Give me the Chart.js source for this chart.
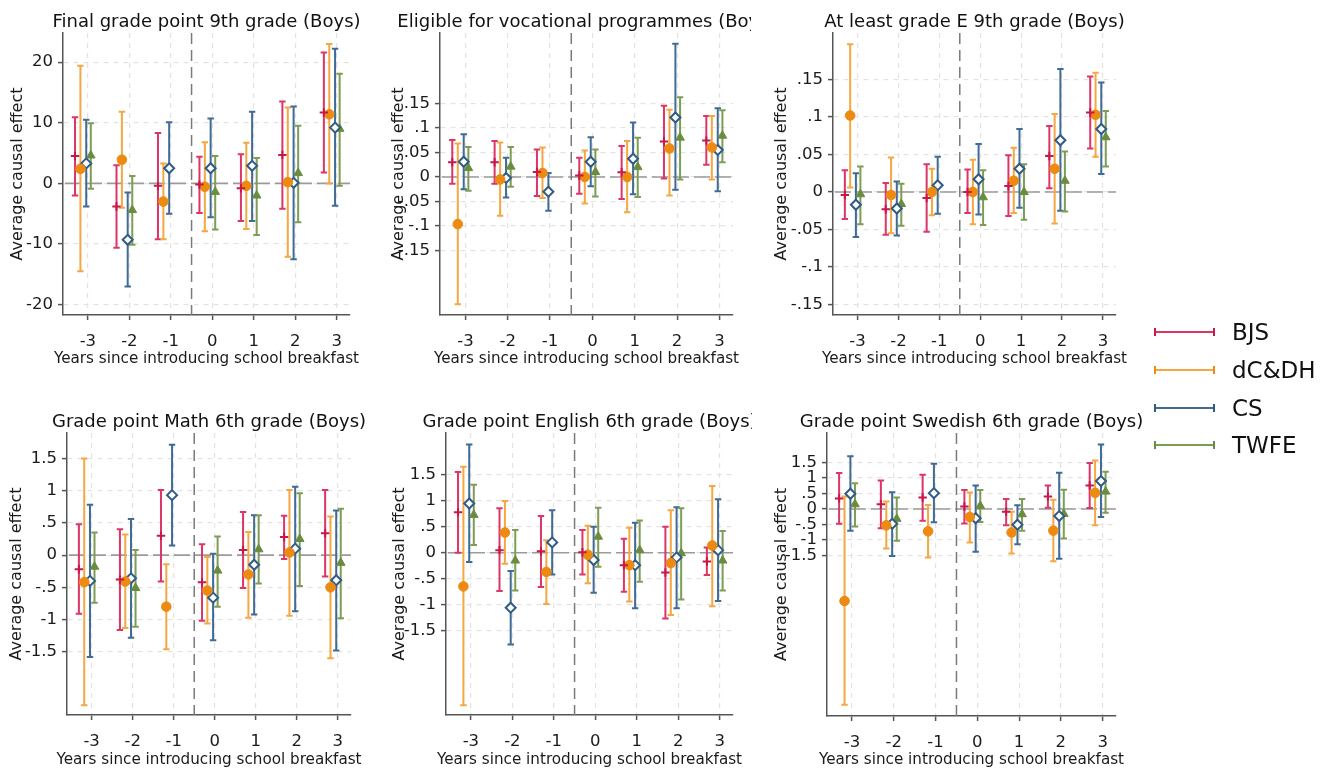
<!DOCTYPE html>
<html><head><meta charset="utf-8">
<script src="https://cdn.jsdelivr.net/npm/chart.js@4.4.1/dist/chart.umd.min.js"></script>
<style>
html,body{margin:0;padding:0;background:#fff;overflow:hidden;width:1336px;height:772px;position:relative;}
canvas{position:absolute;}
.lg{position:absolute;left:1154px;width:57px;height:8px;border-left:2px solid;border-right:2px solid;}
.lg i{position:absolute;left:0;right:0;top:3px;height:2px;}
.lt{position:absolute;left:1232px;font-family:"DejaVu Sans";font-size:23px;color:#111;line-height:28px;white-space:nowrap;}
</style></head><body>
<canvas id="c1" width="376" height="380" style="left:0px;top:0px"></canvas>
<canvas id="c2" width="371" height="380" style="left:380px;top:0px"></canvas>
<canvas id="c3" width="395" height="380" style="left:760px;top:0px"></canvas>
<canvas id="c4" width="376" height="376" style="left:0px;top:400px"></canvas>
<canvas id="c5" width="372" height="376" style="left:380px;top:400px"></canvas>
<canvas id="c6" width="395" height="376" style="left:760px;top:400px"></canvas>
<div id="legend"></div>
<script>
// ---------- DATA ----------
const years = [-3, -2, -1, 0, 1, 2, 3];
const xTickLabels = ['-3', '-2', '-1', '0', '1', '2', '3'];
const seriesNames = ['BJS', 'dC&DH', 'CS', 'TWFE'];

// each entry: [estimate, lower CI, upper CI]; null = not estimated
// Final grade point 9th grade (Boys)
const fg9_BJS  = [[4.5,-2.0,10.9],[-3.8,-10.6,3.0],[-0.4,-9.2,8.3],[-0.2,-4.9,4.4],[-0.8,-6.2,4.8],[4.7,-4.2,13.5],[11.7,1.8,21.6]];
const fg9_DCDH = [[2.4,-14.5,19.4],[3.9,-4.0,11.8],[-3.0,-9.2,3.3],[-0.55,-7.9,6.8],[-0.4,-7.5,6.7],[0.2,-12.1,12.5],[11.4,0.0,23.0]];
const fg9_CS   = [[3.3,-3.8,10.5],[-9.3,-17.0,-1.5],[2.5,-5.0,10.1],[2.5,-5.6,10.7],[2.9,-6.2,11.8],[0.1,-12.5,12.7],[9.2,-3.7,22.2]];
const fg9_TWFE = [[4.6,-0.9,9.9],[-4.4,-10.1,1.2],null,[-1.4,-7.6,4.5],[-2.0,-8.5,4.2],[1.7,-6.4,9.5],[9.0,-0.4,18.1]];
const fg9_yTicks = [-20, -10, 0, 10, 20];
const fg9_yLabels = ['-20', '-10', '0', '10', '20'];

// Eligible for vocational programmes (Boys)
const voc_BJS  = [[0.030,-0.014,0.075],[0.030,-0.014,0.073],[0.010,-0.039,0.056],[0.003,-0.034,0.039],[0.0095,-0.045,0.063],[0.072,-0.003,0.145],[0.074,0.025,0.124]];
const voc_DCDH = [[-0.096,-0.259,0.068],[-0.005,-0.079,0.070],[0.008,-0.043,0.060],[0.0,-0.054,0.054],[0.0,-0.072,0.073],[0.058,-0.038,0.137],[0.060,-0.005,0.124]];
const voc_CS   = [[0.031,-0.025,0.087],[-0.002,-0.042,0.039],[-0.030,-0.069,0.008],[0.031,-0.019,0.081],[0.037,-0.035,0.111],[0.121,-0.026,0.271],[0.055,-0.029,0.140]];
const voc_TWFE = [[0.018,-0.028,0.061],[0.021,-0.020,0.061],null,[0.010,-0.040,0.056],[0.020,-0.041,0.080],[0.080,-0.005,0.162],[0.084,0.030,0.136]];

// At least grade E 9th grade (Boys)
const e9_BJS  = [[-0.004,-0.036,0.029],[-0.023,-0.057,0.012],[-0.008,-0.053,0.037],[0.0,-0.028,0.030],[0.008,-0.032,0.049],[0.048,0.005,0.088],[0.106,0.058,0.154]];
const e9_DCDH = [[0.102,0.006,0.197],[-0.004,-0.055,0.046],[0.0,-0.031,0.031],[0.0,-0.043,0.043],[0.015,-0.028,0.059],[0.031,-0.042,0.104],[0.103,0.047,0.159]];
const e9_CS   = [[-0.017,-0.060,0.025],[-0.022,-0.058,0.014],[0.009,-0.029,0.047],[0.017,-0.030,0.064],[0.031,-0.021,0.084],[0.069,-0.025,0.164],[0.084,0.024,0.146]];
const e9_TWFE = [[-0.003,-0.043,0.034],[-0.016,-0.045,0.011],null,[-0.007,-0.044,0.029],[0.0,-0.037,0.037],[0.015,-0.026,0.054],[0.073,0.034,0.108]];
const share_yTicks = [-0.15, -0.1, -0.05, 0, 0.05, 0.1, 0.15];
const share_yLabels = ['-.15', '-.1', '-.05', '0', '.05', '.1', '.15'];

// Grade point Math 6th grade (Boys)
const math_BJS  = [[-0.22,-0.91,0.48],[-0.38,-1.16,0.40],[0.30,-0.41,1.01],[-0.42,-1.02,0.17],[0.08,-0.51,0.67],[0.28,-0.06,0.61],[0.34,-0.33,1.01]];
const math_DCDH = [[-0.42,-2.33,1.50],[-0.41,-1.13,0.32],[-0.80,-1.46,-0.14],[-0.55,-1.06,-0.03],[-0.30,-0.97,0.36],[0.04,-0.94,1.01],[-0.50,-1.60,0.60]];
const math_CS   = [[-0.40,-1.58,0.78],[-0.36,-1.28,0.56],[0.93,0.15,1.71],[-0.66,-1.32,0.02],[-0.15,-0.92,0.62],[0.10,-0.87,1.06],[-0.39,-1.48,0.69]];
const math_TWFE = [[-0.18,-0.74,0.35],[-0.51,-1.11,0.08],null,[-0.24,-0.80,0.29],[0.09,-0.44,0.62],[0.25,-0.48,0.96],[-0.12,-0.98,0.72]];

// Grade point English 6th grade (Boys)
const eng_BJS  = [[0.78,0.0,1.56],[0.05,-0.74,0.86],[0.03,-0.66,0.71],[0.01,-0.42,0.44],[-0.24,-0.75,0.27],[-0.38,-1.27,0.50],[-0.17,-0.43,0.10]];
const eng_DCDH = [[-0.65,-2.94,1.66],[0.39,-0.21,1.00],[-0.37,-0.99,0.24],[-0.04,-0.59,0.52],[-0.24,-0.94,0.48],[-0.20,-1.20,0.82],[0.14,-1.03,1.29]];
const eng_CS   = [[0.95,-0.18,2.09],[-1.06,-1.77,-0.35],[0.20,-0.42,0.82],[-0.14,-0.77,0.50],[-0.24,-1.07,0.58],[-0.09,-1.07,0.88],[0.05,-0.93,1.03]];
const eng_TWFE = [[0.73,0.15,1.31],[-0.15,-0.73,0.44],null,[0.31,-0.27,0.87],[0.05,-0.56,0.62],[-0.01,-0.90,0.86],[-0.15,-0.73,0.42]];

// Grade point Swedish 6th grade (Boys)
const swe_BJS  = [[0.34,-0.48,1.16],[0.15,-0.62,0.92],[0.37,-0.38,1.10],[0.08,-0.47,0.61],[-0.09,-0.53,0.32],[0.40,0.04,0.76],[0.76,0.03,1.48]];
const swe_DCDH = [[-2.97,-6.32,0.40],[-0.53,-1.28,0.24],[-0.72,-1.57,0.13],[-0.26,-1.08,0.53],[-0.76,-1.44,-0.09],[-0.70,-1.69,0.30],[0.52,-0.53,1.56]];
const swe_CS   = [[0.49,-0.70,1.70],[-0.48,-1.52,0.54],[0.51,-0.43,1.46],[-0.30,-1.38,0.76],[-0.51,-1.14,0.12],[-0.23,-1.61,1.17],[0.90,-0.26,2.08]];
const swe_TWFE = [[0.15,-0.57,0.83],[-0.32,-1.03,0.37],null,[0.10,-0.42,0.61],[-0.17,-0.70,0.32],[-0.16,-0.95,0.62],[0.56,-0.12,1.20]];
const grade_yTicks = [-1.5, -1, -0.5, 0, 0.5, 1, 1.5];
const grade_yLabels = ['-1.5', '-1', '-.5', '0', '.5', '1', '1.5'];

const xAxisTitle = 'Years since introducing school breakfast';
const yAxisTitle = 'Average causal effect';

// ---------- STYLE ----------
const FONT = '"DejaVu Sans"';
const TICK_SIZE = 16.5, AXT_SIZE = 16, XT_SIZE = 15.2;
const seriesStyle = [
  {off:-0.31, bar:'#dc3668', mk:'#c8174b', fill:'#c8174b', pt:'cross', r:4.2, bw:2},
  {off:-0.18, bar:'#f4a742', mk:'#ec8a12', fill:'#ec8a12', pt:'circle', r:4.8, bw:1},
  {off:-0.04, bar:'#3f6b95', mk:'#2f5b86', fill:'#ffffff', pt:'rectRot', r:5, bw:2},
  {off: 0.07, bar:'#7d9d55', mk:'#6a8c3f', fill:'#6a8c3f', pt:'triangle', r:5, bw:1}
];

const panels = [
  {id:'c1', title:'Final grade point 9th grade (Boys)', series:[fg9_BJS,fg9_DCDH,fg9_CS,fg9_TWFE], yMin:-21.7, yMax:24.8, yTicks:fg9_yTicks, yLabels:fg9_yLabels, padL:4, yW:59, padR:26, padB:7, xH:58, titleY:27, xtY:359},
  {id:'c2', title:'Eligible for vocational programmes (Boys)', series:[voc_BJS,voc_DCDH,voc_CS,voc_TWFE], yMin:-0.281, yMax:0.293, yTicks:share_yTicks, yLabels:share_yLabels, padL:5.5, yW:54.5, padR:18, padB:7, xH:58, titleY:27, xtY:359},
  {id:'c3', title:'At least grade E 9th grade (Boys)', series:[e9_BJS,e9_DCDH,e9_CS,e9_TWFE], yMin:-0.164, yMax:0.212, yTicks:share_yTicks, yLabels:share_yLabels, padL:8.5, yW:64.5, padR:39, padB:7, xH:58, titleY:27, xtY:359},
  {id:'c4', title:'Grade point Math 6th grade (Boys)', series:[math_BJS,math_DCDH,math_CS,math_TWFE], yMin:-2.48, yMax:1.894, yTicks:grade_yTicks, yLabels:grade_yLabels, padL:3.2, yW:63.8, padR:25, padB:2, xH:59, titleY:27, xtY:360},
  {id:'c5', title:'Grade point English 6th grade (Boys)', series:[eng_BJS,eng_DCDH,eng_CS,eng_TWFE], yMin:-3.13, yMax:2.31, yTicks:grade_yTicks, yLabels:grade_yLabels, padL:5.8, yW:60.2, padR:19, padB:2, xH:59, titleY:27, xtY:360},
  {id:'c6', title:'Grade point Swedish 6th grade (Boys)', series:[swe_BJS,swe_DCDH,swe_CS,swe_TWFE], yMin:-6.68, yMax:2.45, yTicks:grade_yTicks, yLabels:grade_yLabels, padL:8.2, yW:58.8, padR:39, padB:2, xH:58, titleY:27, xtY:360}
];

const refX = -0.5, refY = 0;

const errPlugin = {
  id: 'errbars',
  beforeDatasetsDraw(chart) {
    const {ctx, chartArea: ca, scales: {x, y}} = chart;
    ctx.save();
    ctx.beginPath(); ctx.rect(ca.left, ca.top, ca.width, ca.height); ctx.clip();
    const y0 = y.getPixelForValue(refY);
    ctx.strokeStyle = '#9b9b9b'; ctx.lineWidth = 1.6; ctx.setLineDash([16, 5]);
    ctx.beginPath(); ctx.moveTo(ca.left + 2, y0); ctx.lineTo(ca.right, y0); ctx.stroke();
    const xv = x.getPixelForValue(refX);
    ctx.strokeStyle = '#7a7a7a'; ctx.lineWidth = 1.5; ctx.setLineDash([11, 6]);
    ctx.beginPath(); ctx.moveTo(xv, ca.top); ctx.lineTo(xv, ca.bottom); ctx.stroke();
    ctx.setLineDash([]);
    ctx.restore();
    ctx.save();
    chart.data.datasets.forEach(ds => {
      ctx.strokeStyle = ds.barColor; ctx.lineWidth = 2;
      ds.data.forEach(p => {
        const px = x.getPixelForValue(p.x);
        const pl = y.getPixelForValue(p.lo), ph = y.getPixelForValue(p.hi);
        ctx.beginPath();
        ctx.moveTo(px, pl); ctx.lineTo(px, ph);
        ctx.moveTo(px - 3.2, pl); ctx.lineTo(px + 3.2, pl);
        ctx.moveTo(px - 3.2, ph); ctx.lineTo(px + 3.2, ph);
        ctx.stroke();
      });
    });
    ctx.restore();
  }
};

const titlePlugin = {
  id: 'ptitle',
  afterDraw(chart) {
    const o = chart.options.plugins.ptitle;
    const {ctx, chartArea: ca} = chart;
    const cx = (ca.left + ca.right) / 2;
    ctx.save();
    ctx.fillStyle = '#111';
    ctx.textAlign = 'center';
    ctx.font = '18px ' + FONT; ctx.textBaseline = 'alphabetic';
    ctx.fillText(o.text, cx, o.y);
    ctx.font = XT_SIZE + 'px ' + FONT; ctx.textBaseline = 'middle'; ctx.fillStyle = '#1a1a1a';
    ctx.fillText(o.xTitle, cx, o.xtY);
    ctx.restore();
  }
};

panels.forEach(p => {
  const datasets = seriesNames.map((name, si) => {
    const st = seriesStyle[si];
    const pts = [];
    years.forEach((yr, i) => {
      const t = p.series[si][i];
      if (t) pts.push({x: yr + st.off, y: t[0], lo: t[1], hi: t[2]});
    });
    return {
      label: name, data: pts, barColor: st.bar,
      pointStyle: st.pt, pointRadius: st.r, pointHoverRadius: st.r,
      backgroundColor: st.fill, borderColor: st.mk, borderWidth: st.bw,
      showLine: false, clip: false
    };
  });
  new Chart(document.getElementById(p.id), {
    type: 'scatter',
    data: {datasets},
    plugins: [errPlugin, titlePlugin],
    options: {
      responsive: false, animation: false, devicePixelRatio: 1, events: [],
      layout: {padding: {top: 33, left: p.padL, right: p.padR, bottom: p.padB}},
      plugins: {legend: {display: false}, tooltip: {enabled: false}, ptitle: {text: p.title, y: p.titleY, xTitle: xAxisTitle, xtY: p.xtY}},
      scales: {
        x: {
          type: 'linear', min: -3.6, max: 3.32,
          afterBuildTicks: s => { s.ticks = years.map(v => ({value: v})); },
          afterFit: s => { s.height = p.xH; },
          ticks: {callback: v => xTickLabels[years.indexOf(v)], font: {family: FONT, size: TICK_SIZE}, color: '#1a1a1a', padding: 12, autoSkip: false, maxRotation: 0},
          grid: {color: '#e3e3e3', lineWidth: 1.2, tickLength: 5, tickColor: '#555', tickWidth: 1.5, tickBorderDash: []},
          border: {display: true, color: '#555', width: 1.5, dash: [5, 5]},
          title: {display: false}
        },
        y: {
          type: 'linear', min: p.yMin, max: p.yMax,
          afterBuildTicks: s => { s.ticks = p.yTicks.map(v => ({value: v})); },
          afterFit: s => { s.width = p.yW; },
          ticks: {callback: v => p.yLabels[p.yTicks.indexOf(v)], font: {family: FONT, size: TICK_SIZE}, color: '#1a1a1a', padding: 5, autoSkip: false},
          grid: {color: '#e3e3e3', lineWidth: 1.2, tickLength: 5, tickColor: '#555', tickWidth: 1.5, tickBorderDash: []},
          border: {display: true, color: '#555', width: 1.5, dash: [5, 5]},
          title: {display: true, text: yAxisTitle, font: {family: FONT, size: AXT_SIZE}, color: '#1a1a1a'}
        }
      }
    }
  });
});

// legend
const legendTops = [332, 370, 408, 445];
const lg = document.getElementById('legend');
seriesNames.forEach((name, si) => {
  const line = document.createElement('div');
  line.className = 'lg';
  line.style.top = (legendTops[si] - 4) + 'px';
  line.style.borderColor = seriesStyle[si].mk;
  const inner = document.createElement('i');
  inner.style.background = seriesStyle[si].bar;
  line.appendChild(inner);
  lg.appendChild(line);
  const txt = document.createElement('div');
  txt.className = 'lt';
  txt.style.top = (legendTops[si] - 14) + 'px';
  txt.textContent = name;
  lg.appendChild(txt);
});
</script>
</body></html>
